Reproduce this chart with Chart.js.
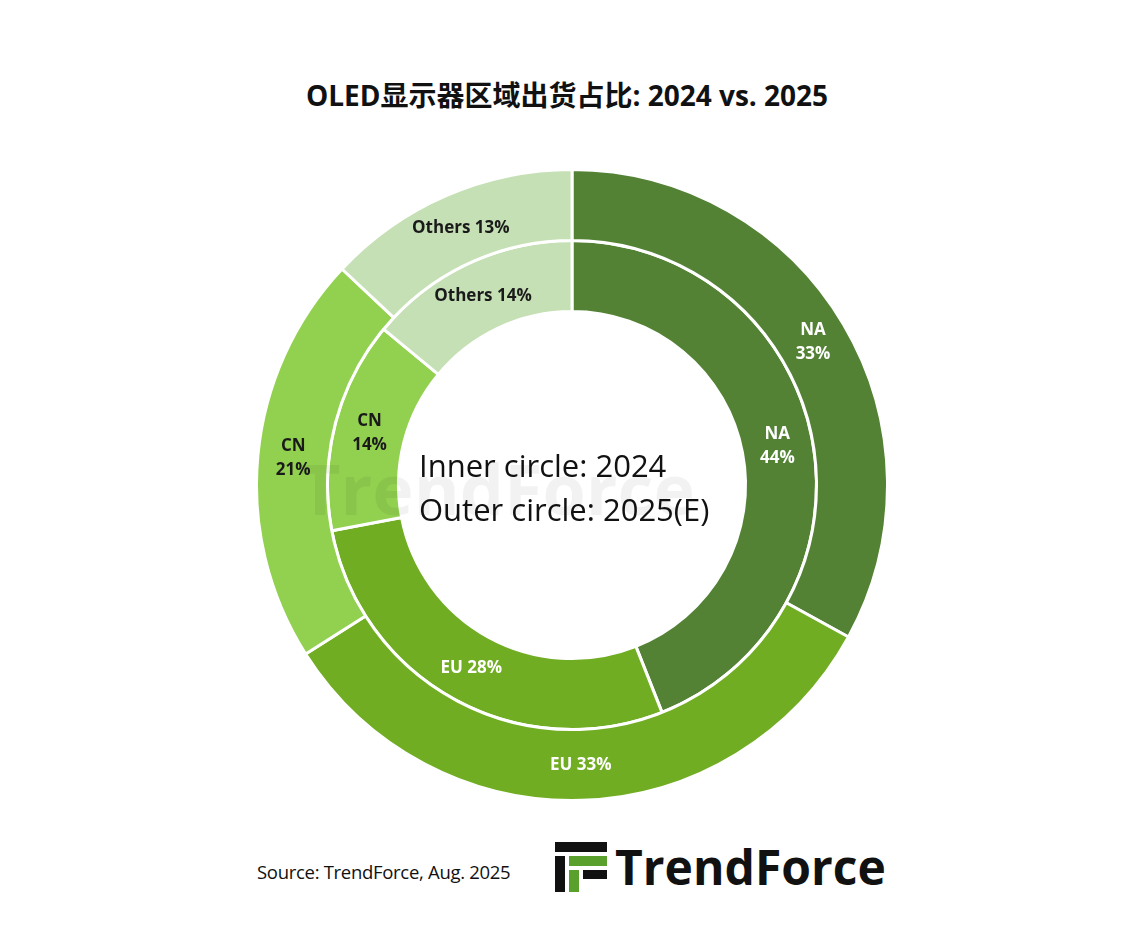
<!DOCTYPE html>
<html><head><meta charset="utf-8">
<script src="https://cdn.jsdelivr.net/npm/chart.js@4"></script>
<style>
body{margin:0;width:1124px;height:936px;background:#fff;font-family:"Open Sans","Noto Sans CJK SC",sans-serif;position:relative;overflow:hidden}
#title{position:absolute;top:74px;left:0;width:1134px;text-align:center;font:bold 28px "Open Sans","Noto Sans CJK SC",sans-serif;color:#111}
#wrap{position:absolute;left:255px;top:168px;width:634px;height:634px}
#center{position:absolute;left:419px;top:443px;font:31px "Open Sans",sans-serif;color:#111;line-height:44px}
#src{position:absolute;left:257px;top:859px;font:18.5px "Open Sans",sans-serif;color:#111;letter-spacing:-0.3px}
#logo{position:absolute;left:555px;top:834px;display:flex;align-items:center}
#logo span{font:bold 48px "Open Sans",sans-serif;color:#111;margin-left:8px}
#wm{position:absolute;left:300px;top:440px;font:bold 70px "Open Sans",sans-serif;color:rgba(0,0,0,0.05)}
</style></head><body>
<div id="title">OLED显示器区域出货占比: 2024 vs. 2025</div>
<div id="wrap"><canvas id="c"></canvas></div>
<div id="wm">TrendForce</div>
<div id="center">Inner circle: 2024<br>Outer circle: 2025(E)</div>
<div id="src">Source: TrendForce, Aug. 2025</div>
<div id="logo"><svg width="52" height="50" viewBox="0 0 52 50"><rect x="0" y="0" width="52" height="10" fill="#111"/><rect x="0" y="14" width="10" height="36" fill="#111"/><rect x="14" y="14" width="38" height="10" fill="#5aa02c"/><rect x="14" y="28" width="10" height="22" fill="#5aa02c"/><rect x="28" y="28" width="24" height="9" fill="#111"/></svg><span>TrendForce</span></div>
<script>
const regions=["NA","EU","CN","Others"];
const outer2025=[33,33,21,13];
const inner2024=[44,28,14,14];
const colors=["#548235","#70ad23","#92d050","#c5e0b4"];
const textColors=["#fff","#fff","#1a1a1a","#1a1a1a"];
const labelPlugin={id:"lbl",afterDatasetsDraw(chart){
 const ctx=chart.ctx;ctx.save();ctx.font="bold 17px 'Open Sans',sans-serif";ctx.textAlign="center";ctx.textBaseline="middle";
 chart.data.datasets.forEach((ds,di)=>{chart.getDatasetMeta(di).data.forEach((arc,i)=>{
  const p=arc.tooltipPosition();ctx.fillStyle=textColors[i];
  const two=(i===0)||(i===2);
  if(two){ctx.fillText(regions[i],p.x,p.y-12);ctx.fillText(ds.data[i]+"%",p.x,p.y+12);}
  else ctx.fillText(regions[i]+" "+ds.data[i]+"%",p.x,p.y);
 });});ctx.restore();}};
new Chart(document.getElementById("c"),{type:"doughnut",
 data:{labels:regions,datasets:[
  {data:outer2025,backgroundColor:colors,borderColor:"#fff",borderWidth:3},
  {data:inner2024,backgroundColor:colors,borderColor:"#fff",borderWidth:3}]},
 options:{responsive:true,maintainAspectRatio:false,animation:false,cutout:"55%",
  layout:{padding:0},plugins:{legend:{display:false},tooltip:{enabled:false}}},
 plugins:[labelPlugin]});
</script></body></html>
